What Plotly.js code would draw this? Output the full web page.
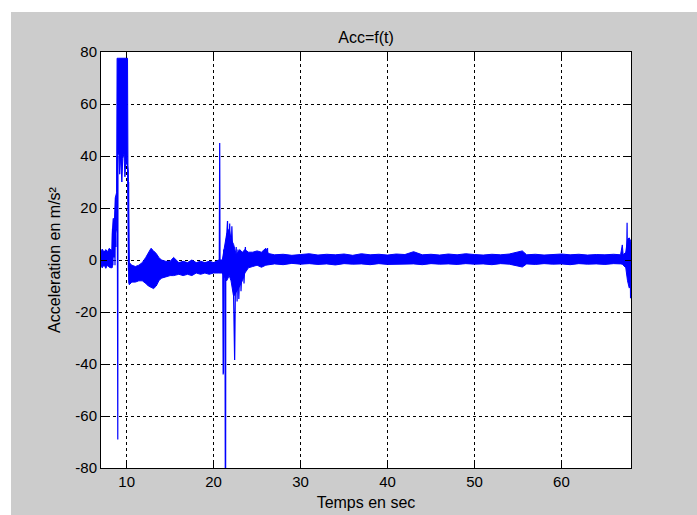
<!DOCTYPE html>
<html>
<head>
<meta charset="utf-8">
<script src="https://cdn.plot.ly/plotly-3.0.1.min.js"></script>
<style>
  html, body { margin: 0; padding: 0; background: #ffffff; width: 697px; height: 515px; overflow: hidden; }
  #chart { position: absolute; left: 11px; top: 12px; width: 686px; height: 503px; }
</style>
</head>
<body>
<div id="chart"></div>
<script>
// Acceleration record, time in seconds.
// The dense vibration band is kept as its upper / lower envelope.
const bandTime = [
  7.05, 7.2, 7.4, 7.6, 7.8, 8.0, 8.2, 8.3, 8.35, 8.45, 8.6, 8.7, 8.85,
  8.9, 9.1, 9.2, 9.3, 9.45, 9.55, 9.7, 9.8, 9.9, 10.1, 10.15, 10.25,
  10.3, 10.6, 11.0, 11.4, 11.8, 12.2, 12.5, 12.8, 13.1, 13.4, 13.7, 14.0,
  14.5, 15.0, 15.4, 16.0, 16.5, 17.0, 17.5, 18.0, 18.5, 19.0, 19.5, 20.0,
  20.6, 21.0, 21.2, 21.5, 21.8, 22.0, 22.3, 22.6, 23.0, 23.3, 23.6, 24.0,
  24.5, 25.0, 25.5, 26.0, 26.3, 27, 28, 29, 30, 31, 32, 33, 34, 35, 36,
  37, 38, 39, 40, 41, 42, 43, 44, 45, 46, 47, 48, 49, 50, 51, 52, 53, 54,
  55.5, 56, 57, 58, 59, 60, 61, 62, 63, 64, 65, 66, 66.8, 67.0, 67.1,
  67.4, 67.6, 67.8, 68.0
];
const bandHigh = [
  3.5, 4.2, 3.0, 4.0, 3.2, 4.5, 3.8, 3.5, 10, 16, 15.5, 24, 26,
  77.6, 77.6, 77.6, 77.6, 77.6, 77.6, 77.6, 77.6, 77.6, 77.6, 35, 2,
  -1, -2, -2.5, -2, -1, 1, 3, 4.5, 3.5, 2.5, 1, 0,
  -0.5, -0.5, 1, -1, -0.5, -1, 0, -1, -0.5, -1, -0.5, -1,
  0, 0, 4, 10, 12, 8, 6, 2, 4, 3, 4, 3,
  3, 3.5, 3, 4.5, 2.5, 2.0, 2.2, 1.8, 2.1, 2.4, 1.9, 2.2, 2.0, 2.3, 1.8,
  2.4, 2.0, 2.2, 1.9, 2.3, 2.1, 3.2, 2.0, 2.2, 1.9, 2.3, 2.0, 2.4, 2.1, 1.9, 2.2, 2.0, 2.3,
  3.5, 2.0, 2.2, 1.9, 2.1, 2.3, 2.0, 2.2, 1.9, 2.1, 2.0, 2.2, 2.0, 5.8, 2,
  3, 8, 8.5, 7
];
const bandLow = [
  -2.5, -3.0, -1.8, -3.2, -2.0, -2.8, -3.0, -3.0, -2, 8, 9, 10, 12,
  40, 41, 33, 40, 30, 39, 41, 32, 38, 36, 20, -8,
  -9.5, -8.5, -8.5, -8, -8, -9, -10, -10.5, -11, -10, -8, -7,
  -6.5, -6, -6, -5.5, -6, -5.5, -6, -5, -5.5, -5, -5.5, -5,
  -5, -5, -6, -8, -6, -8, -14, -12, -10, -8, -5, -3,
  -2.5, -2, -2.8, -2, -2, -1.5, -1.8, -1.3, -1.6, -1.4, -1.7, -1.5, -1.9, -1.4, -1.6,
  -1.5, -1.8, -1.4, -1.7, -1.5, -1.6, -1.5, -1.8, -1.4, -1.6, -1.5, -1.7, -1.4, -1.6, -1.5, -1.8, -1.4, -1.6,
  -2.7, -1.5, -1.7, -1.4, -1.6, -1.5, -1.8, -1.4, -1.6, -1.5, -1.7, -1.4, -1.5, -1.6, -2,
  -3, -8, -10.8, -10
];

// Isolated peaks (null separates the bursts)
const peakTime = [
  8.3, 8.33, 8.37, 8.42, 8.5, 8.55, 8.62, 8.66, 8.72, 8.78, null,
  8.92, 8.95, 8.98, 9.0, null,
  10.1, 10.18, 10.2, 10.23, 10.27, null,
  20.65, 20.7, 20.74, null,
  21.05, 21.1, 21.13, 21.16, 21.3, 21.35, 21.38, 21.4, 21.6, 21.7, 21.85, 21.95,
  22.1, 22.25, 22.35, 22.42, 22.5, 22.6, 22.7, 22.8, 22.9, 23.05, 23.15, 23.35,
  23.5, 23.65, 23.8, null,
  26.15, 26.2, 26.25, null,
  67.5, 67.55, 67.6, 67.9, 67.95, 68.0
];
const peakAcc = [
  4, -3, 12, -2, 14, 1, 10, -2, 24, 5, null,
  40, -69, -69, 40, null,
  36, 34, -4, 30, -9, null,
  -2, 45, -3, null,
  -2, -44, -43, 4, 3, -95, -95, 3, 15, -5, 14, -7,
  13, -4, -38.5, -38.5, -12, 5, -16, 4, -15, 3, -12, 3,
  -9, 5, -4, null,
  -1, 4.6, -1, null,
  0, 14.3, -5, 5, -14.7, 5
];

const xTickVals = [10, 20, 30, 40, 50, 60];
const xTickText = ['10', '20', '30', '40', '50', '60'];
const yTickVals = [-80, -60, -40, -20, 0, 20, 40, 60, 80];
const yTickText = ['-80', '-60', '-40', '-20', '0', '20', '40', '60', '80'];

const blue = '#0000ff';

// closed outline: upper envelope forward, lower envelope back
const outlineX = bandTime.concat(bandTime.slice().reverse());
const outlineY = bandHigh.concat(bandLow.slice().reverse());

const traces = [
  {
    x: outlineX, y: outlineY, type: 'scatter', mode: 'lines',
    fill: 'toself', fillcolor: blue,
    line: { color: blue, width: 1 },
    hoverinfo: 'skip', showlegend: false
  },
  {
    x: peakTime, y: peakAcc, type: 'scatter', mode: 'lines',
    connectgaps: false,
    line: { color: blue, width: 1.2 },
    showlegend: false
  }
];

const font = { family: '"Liberation Sans", Arial, sans-serif', color: '#000000' };

const axisCommon = {
  showline: true, linecolor: '#000000', linewidth: 1, mirror: 'ticks',
  ticks: 'inside', ticklen: 6, tickcolor: '#000000', tickwidth: 1,
  showgrid: true, gridcolor: '#000000', gridwidth: 1, griddash: '3px,3px',
  zeroline: false, tickmode: 'array',
  tickfont: Object.assign({ size: 15 }, font)
};

const layout = {
  width: 686, height: 503,
  paper_bgcolor: '#cccccc', plot_bgcolor: '#ffffff',
  margin: { l: 90, r: 66, t: 40, b: 47 },
  showlegend: false,
  title: {
    text: 'Acc=f(t)', font: Object.assign({ size: 16 }, font),
    x: 0.5, xref: 'paper', y: 1 - 25 / 503, yanchor: 'middle'
  },
  xaxis: Object.assign({}, axisCommon, {
    range: [7.05, 68.0], tickvals: xTickVals, ticktext: xTickText,
    title: { text: 'Temps en sec', font: Object.assign({ size: 16 }, font), standoff: 7 }
  }),
  yaxis: Object.assign({}, axisCommon, {
    range: [-80, 80], tickvals: yTickVals, ticktext: yTickText,
    title: { text: 'Acceleration en m/s²', font: Object.assign({ size: 16 }, font), standoff: 10 }
  })
};

Plotly.newPlot('chart', traces, layout, { staticPlot: true, displayModeBar: false });
</script>
</body>
</html>
